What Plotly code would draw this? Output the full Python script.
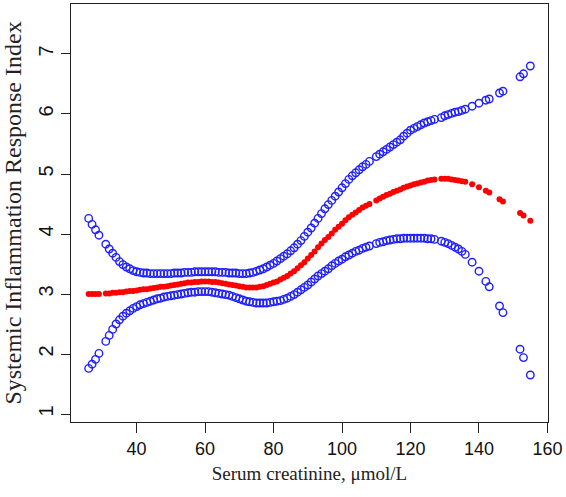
import plotly.graph_objects as go

# Serum creatinine sample values (umol/L)
creatinine = [26, 27, 28, 29, 31, 32, 33, 34, 35, 36, 37, 38, 39, 40, 41, 42, 43, 44, 45, 46,
              47, 48, 49, 50, 51, 52, 53, 54, 55, 56, 57, 58, 59, 60, 61, 62, 63, 64, 65, 66,
              67, 68, 69, 70, 71, 72, 73, 74, 75, 76, 77, 78, 79, 80, 81, 82, 83, 84, 85, 86,
              87, 88, 89, 90, 91, 92, 93, 94, 95, 96, 97, 98, 99, 100, 101, 102, 103, 104, 105, 106,
              107, 108, 110, 111, 112, 113, 114, 115, 116, 117, 118, 119, 120, 121, 122, 123, 124, 125, 126, 127,
              129, 130, 131, 132, 133, 134, 135, 136, 138, 140, 142, 143, 146, 147, 152, 153, 155]

# Estimated SIRI (fitted)
siri_fit = [3.00, 3.00, 3.00, 3.00, 3.01, 3.01, 3.02, 3.02, 3.03, 3.03, 3.04, 3.05, 3.05, 3.06, 3.07, 3.08, 3.08, 3.09, 3.10, 3.11,
            3.12, 3.12, 3.13, 3.14, 3.15, 3.16, 3.17, 3.18, 3.19, 3.19, 3.20, 3.20, 3.21, 3.21, 3.21, 3.20, 3.20, 3.19, 3.18, 3.17,
            3.16, 3.15, 3.14, 3.13, 3.12, 3.11, 3.11, 3.11, 3.11, 3.12, 3.13, 3.15, 3.17, 3.19, 3.21, 3.24, 3.27, 3.30, 3.34, 3.38,
            3.43, 3.48, 3.53, 3.59, 3.65, 3.71, 3.78, 3.84, 3.90, 3.95, 4.01, 4.07, 4.12, 4.17, 4.23, 4.28, 4.32, 4.36, 4.40, 4.44,
            4.47, 4.50, 4.56, 4.59, 4.62, 4.65, 4.67, 4.70, 4.72, 4.74, 4.77, 4.79, 4.81, 4.83, 4.84, 4.86, 4.87, 4.89, 4.90, 4.91,
            4.92, 4.92, 4.92, 4.91, 4.90, 4.89, 4.88, 4.87, 4.83, 4.78, 4.72, 4.69, 4.58, 4.54, 4.35, 4.31, 4.22]

# Upper 95% CI
siri_upper = [4.26, 4.16, 4.07, 3.98, 3.83, 3.75, 3.68, 3.61, 3.54, 3.49, 3.45, 3.42, 3.39, 3.37, 3.36, 3.35, 3.35, 3.34, 3.34, 3.34,
              3.34, 3.34, 3.34, 3.34, 3.35, 3.35, 3.35, 3.36, 3.36, 3.36, 3.37, 3.37, 3.37, 3.37, 3.37, 3.37, 3.37, 3.36, 3.36, 3.36,
              3.35, 3.35, 3.35, 3.34, 3.34, 3.34, 3.35, 3.36, 3.38, 3.40, 3.42, 3.45, 3.48, 3.51, 3.55, 3.59, 3.63, 3.67, 3.72, 3.77,
              3.83, 3.89, 3.96, 4.03, 4.10, 4.18, 4.26, 4.34, 4.42, 4.49, 4.56, 4.63, 4.70, 4.77, 4.84, 4.91, 4.97, 5.02, 5.07, 5.12,
              5.16, 5.21, 5.29, 5.33, 5.37, 5.41, 5.45, 5.49, 5.53, 5.57, 5.63, 5.68, 5.73, 5.76, 5.79, 5.82, 5.85, 5.87, 5.89, 5.91,
              5.94, 5.97, 5.99, 6.01, 6.03, 6.04, 6.06, 6.08, 6.13, 6.18, 6.23, 6.25, 6.35, 6.38, 6.62, 6.67, 6.80]

# Lower 95% CI
siri_lower = [1.76, 1.83, 1.91, 2.01, 2.21, 2.31, 2.41, 2.50, 2.57, 2.63, 2.68, 2.72, 2.76, 2.79, 2.82, 2.84, 2.86, 2.88, 2.90, 2.92,
              2.93, 2.95, 2.96, 2.97, 2.98, 2.99, 3.00, 3.01, 3.02, 3.03, 3.03, 3.04, 3.04, 3.04, 3.04, 3.03, 3.02, 3.01, 3.00, 2.99,
              2.98, 2.96, 2.94, 2.92, 2.90, 2.88, 2.87, 2.86, 2.85, 2.85, 2.85, 2.85, 2.86, 2.87, 2.88, 2.89, 2.91, 2.93, 2.96, 2.99,
              3.03, 3.07, 3.11, 3.15, 3.20, 3.25, 3.30, 3.34, 3.38, 3.42, 3.47, 3.51, 3.55, 3.58, 3.62, 3.65, 3.68, 3.71, 3.73, 3.76,
              3.78, 3.80, 3.84, 3.86, 3.87, 3.89, 3.90, 3.91, 3.92, 3.92, 3.93, 3.93, 3.93, 3.93, 3.93, 3.93, 3.93, 3.92, 3.92, 3.91,
              3.88, 3.86, 3.84, 3.81, 3.78, 3.75, 3.71, 3.66, 3.53, 3.38, 3.21, 3.12, 2.80, 2.69, 2.08, 1.94, 1.65]

x_ticks = [40, 60, 80, 100, 120, 140, 160]
y_ticks = [1, 2, 3, 4, 5, 6, 7]

BLUE = "#1f1fff"
RED = "#ff0000"

fig = go.Figure()
fig.add_trace(go.Scatter(x=creatinine, y=siri_upper, mode="markers",
                         marker=dict(symbol="circle-open", size=7.5, color=BLUE, line=dict(width=1.4, color=BLUE)),
                         name="Upper CI", showlegend=False))
fig.add_trace(go.Scatter(x=creatinine, y=siri_lower, mode="markers",
                         marker=dict(symbol="circle-open", size=7.5, color=BLUE, line=dict(width=1.4, color=BLUE)),
                         name="Lower CI", showlegend=False))
fig.add_trace(go.Scatter(x=creatinine, y=siri_fit, mode="markers",
                         marker=dict(symbol="circle", size=6, color=RED, line=dict(width=0)),
                         name="SIRI", showlegend=False))

fig.update_layout(
    width=566, height=497,
    margin=dict(l=71, r=18, t=4, b=75),
    paper_bgcolor="white", plot_bgcolor="white",
    showlegend=False,
)
fig.update_xaxes(
    range=[20.84, 160.16], tickvals=x_ticks, ticktext=[str(v) for v in x_ticks],
    showgrid=False, zeroline=False,
    showline=True, mirror=True, linecolor="#222222", linewidth=1.3,
    ticks="outside", ticklen=10, tickwidth=1.3, tickcolor="#222222",
    tickfont=dict(family="Arial, Liberation Sans, sans-serif", size=18, color="#111111"),
    title=dict(text="Serum creatinine, μmol/L", standoff=8,
               font=dict(family="Times New Roman, Liberation Serif, serif", size=19, color="#222222")),
)
fig.update_yaxes(
    range=[0.867, 7.833], tickvals=y_ticks, ticktext=[str(v) for v in y_ticks],
    showgrid=False, zeroline=False,
    showline=True, mirror=True, linecolor="#222222", linewidth=1.3,
    ticks="outside", ticklen=9, tickwidth=1.3, tickcolor="#222222", tickangle=-90,
    tickfont=dict(family="Arial, Liberation Sans, sans-serif", size=20, color="#111111"),
    title=dict(text="Systemic Inflammation Response Index", standoff=6,
               font=dict(family="Times New Roman, Liberation Serif, serif", size=24, color="#222222")),
)

fig.write_html("out.html")
